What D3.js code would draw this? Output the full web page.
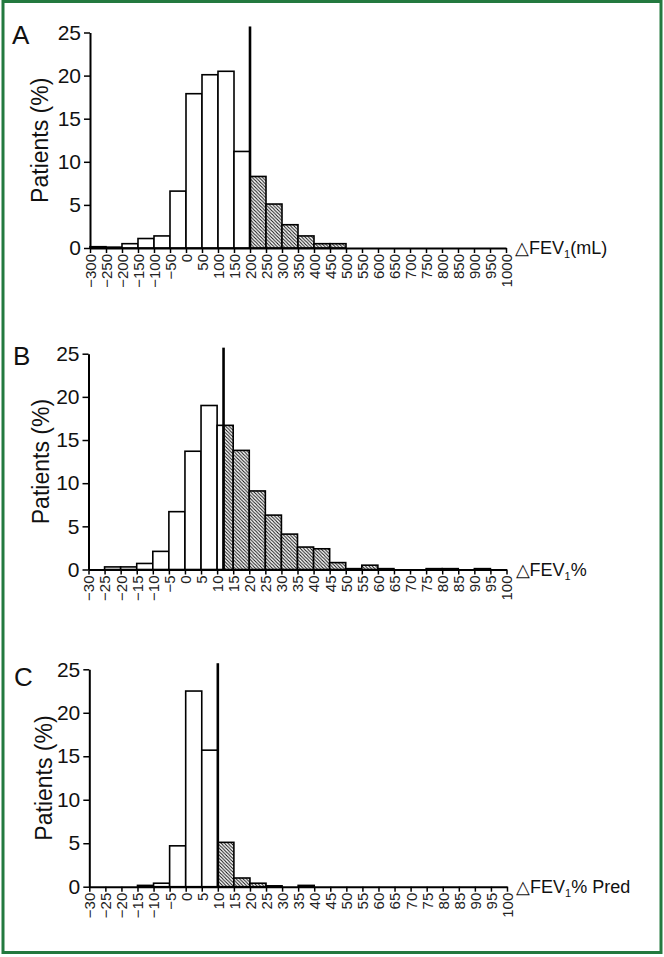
<!DOCTYPE html>
<html>
<head>
<meta charset="utf-8">
<script src="https://cdn.jsdelivr.net/npm/d3@7"></script>
<style>
  html, body { margin: 0; padding: 0; background: #fff; }
  svg { display: block; font-family: "Liberation Sans", Arial, sans-serif; }
</style>
</head>
<body>
<svg id="chart" width="664" height="957"></svg>
<script>
// ---------- Data ----------
const ticksA = [-300,-250,-200,-150,-100,-50,0,50,100,150,200,250,300,350,400,450,500,550,600,650,700,750,800,850,900,950,1000];
const valuesA = [0.15,0.1,0.5,1.1,1.4,6.6,17.9,20.1,20.5,11.2,8.3,5.1,2.7,1.4,0.5,0.5,0,0,0,0,0,0,0,0,0,0];
const thresholdA = 200;

const ticksB = [-30,-25,-20,-15,-10,-5,0,5,10,15,20,25,30,35,40,45,50,55,60,65,70,75,80,85,90,95,100];
const valuesB = [0,0.3,0.3,0.7,2.1,6.7,13.7,19.0,16.7,13.8,9.1,6.3,4.1,2.6,2.4,0.8,0.1,0.5,0.1,0,0,0.1,0.1,0,0.1,0];
const thresholdB = 12;

const ticksC = [-30,-25,-20,-15,-10,-5,0,5,10,15,20,25,30,35,40,45,50,55,60,65,70,75,80,85,90,95,100];
const valuesC = [0,0,0,0.15,0.4,4.7,22.5,15.7,5.1,1.0,0.4,0.1,0,0.15,0,0,0,0,0,0,0,0,0,0,0,0];
const thresholdC = 10;

const yTicks = [0,5,10,15,20,25];
const panelLabels = ["A","B","C"];
const xTitles = [["△FEV","1","(mL)"],["△FEV","1","%"],["△FEV","1","% Pred"]];
const yTitle = "Patients (%)";

// ---------- Layout ----------
const svg = d3.select("#chart");
const defs = svg.append("defs");
const pat = defs.append("pattern")
  .attr("id","hatch").attr("patternUnits","userSpaceOnUse")
  .attr("width",3.4).attr("height",3.4);
pat.append("rect").attr("width",3.4).attr("height",3.4).attr("fill","#fff");
pat.append("path")
  .attr("d","M-1,-1 L4.4,4.4 M-1,2.4 L1,4.4 M2.4,-1 L4.4,1")
  .attr("stroke","#111").attr("stroke-width",1.05);

// green frame
svg.append("rect").attr("x",3).attr("y",1.5).attr("width",658).attr("height",951)
  .attr("fill","none").attr("stroke","#23793f").attr("stroke-width",3);

const panels = [
  {ticks: ticksA, values: valuesA, thr: thresholdA, x0: 90,   x1: 506,   yTop: 32.5,  yBase: 248,   labelX: 12, labelY: 44,  ytX: 40},
  {ticks: ticksB, values: valuesB, thr: thresholdB, x0: 88.5, x1: 506.5, yTop: 353.7, yBase: 569.5, labelX: 13, labelY: 365, ytX: 41},
  {ticks: ticksC, values: valuesC, thr: thresholdC, x0: 89.3, x1: 507,   yTop: 669.3, yBase: 886.7, labelX: 14, labelY: 686, ytX: 44}
];

const fmt = d => d < 0 ? "\u2212" + Math.abs(d) : String(d);

panels.forEach((p, i) => {
  const g = svg.append("g");
  const x = d3.scaleLinear().domain([p.ticks[0], p.ticks[p.ticks.length-1]]).range([p.x0, p.x1]);
  const y = d3.scaleLinear().domain([0, 25]).range([p.yBase, p.yTop]);
  const step = p.ticks[1] - p.ticks[0];
  const bins = p.ticks.slice(0, -1).map((s, k) => ({start: s, end: s + step, v: p.values[k]}));

  const pieces = [];
  bins.forEach(b => {
    if (b.v <= 0) return;
    if (b.end <= p.thr) pieces.push({a: b.start, b: b.end, v: b.v, h: false});
    else if (b.start >= p.thr) pieces.push({a: b.start, b: b.end, v: b.v, h: true});
    else {
      pieces.push({a: b.start, b: p.thr, v: b.v, h: false});
      pieces.push({a: p.thr, b: b.end, v: b.v, h: true});
    }
  });

  g.selectAll("rect.bar").data(pieces).enter().append("rect")
    .attr("class","bar")
    .attr("x", d => x(d.a))
    .attr("width", d => x(d.b) - x(d.a))
    .attr("y", d => y(d.v))
    .attr("height", d => y(0) - y(d.v))
    .attr("fill", d => d.h ? "url(#hatch)" : "#fff")
    .attr("stroke", "#000")
    .attr("stroke-width", 1.6);

  // x axis
  const xa = g.append("g").attr("transform", `translate(0,${p.yBase})`)
    .call(d3.axisBottom(x).tickValues(p.ticks).tickFormat(fmt).tickSize(5).tickSizeOuter(0));
  xa.select(".domain").attr("stroke-width", 2);
  xa.selectAll(".tick line").attr("stroke-width", 1.5);
  xa.selectAll(".tick text")
    .attr("transform","rotate(-90)")
    .attr("text-anchor","end")
    .attr("x",-6).attr("y",0).attr("dy","0.36em")
    .attr("font-size",15).attr("font-family","'Liberation Sans', Arial, sans-serif")
    .attr("fill","#222");

  // y axis
  const ya = g.append("g").attr("transform", `translate(${p.x0},0)`)
    .call(d3.axisLeft(y).tickValues(yTicks).tickSize(6).tickPadding(3).tickSizeOuter(0));
  ya.select(".domain").attr("stroke-width", 2);
  ya.selectAll(".tick line").attr("stroke-width", 1.5);
  ya.selectAll(".tick text").attr("font-size",21).attr("font-family","'Liberation Sans', Arial, sans-serif").attr("fill","#111");

  // threshold line
  g.append("line")
    .attr("x1", x(p.thr)).attr("x2", x(p.thr))
    .attr("y1", y(25.7)).attr("y2", y(0))
    .attr("stroke","#000").attr("stroke-width",2.6);

  // panel label
  g.append("text").attr("x", p.labelX).attr("y", p.labelY)
    .attr("font-size", 26).attr("fill","#111").text(panelLabels[i]);

  // y title
  g.append("text")
    .attr("transform", `translate(${p.ytX},${(p.yBase + p.yTop)/2}) rotate(-90)`)
    .attr("text-anchor","middle").attr("dy","0.35em")
    .attr("font-size", 23).attr("fill","#111").text(yTitle);

  // x title
  const t = g.append("text").attr("x", p.x1 + 9).attr("y", p.yBase).attr("dy","0.35em")
    .attr("font-size", 18).attr("fill","#111");
  t.append("tspan").text(xTitles[i][0]);
  t.append("tspan").attr("font-size", 11).attr("dy", 4).text(xTitles[i][1]);
  t.append("tspan").attr("dy", -4).text(xTitles[i][2]);
});
</script>
</body>
</html>
